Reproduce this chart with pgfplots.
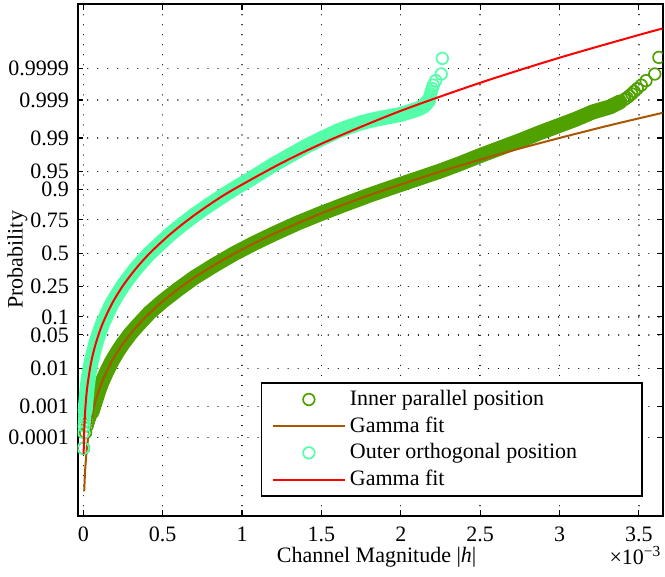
\documentclass[border=0pt]{standalone}
\usepackage{fontspec}
\setmainfont{Liberation Serif}
\usepackage{pgfplots}
\pgfplotsset{compat=1.18}
\usetikzlibrary{calc}
\definecolor{innerc}{RGB}{80,160,0}
\definecolor{outerc}{RGB}{85,255,170}
\definecolor{fitbrown}{RGB}{170,85,0}
\definecolor{fitred}{RGB}{255,0,0}
\pgfplotsset{
  lineleg/.style={legend image code/.code={\draw[##1] (0pt,0pt) -- (36pt,0pt);}},
  markleg/.style={legend image code/.code={\draw[##1] plot coordinates {(18pt,0pt)};}},
}
\begin{document}
\fontsize{11}{13}\selectfont
\begin{tikzpicture}
\begin{axis}[name=ax,
  scale only axis, width=292.5pt, height=255.85pt,
  xmin=-0.035, xmax=3.65, ymin=-5.290, ymax=5.026,
  clip marker paths=true,
  axis line style={line width=0.9pt},
  tick align=inside, major tick length=2.9pt,
  tick style={line width=0.6pt, black},
  xtick={0,0.5,1,1.5,2,2.5,3,3.5},
  xticklabels={0,0.5,1,1.5,2,2.5,3,3.5},
  ytick={-3.7190,-3.0902,-2.3263,-1.6449,-1.2816,-0.6745,0,0.6745,1.2816,1.6449,2.3263,3.0902,3.7190},
  yticklabels={0.0001,0.001,0.01,0.05,0.1,0.25,0.5,0.75,0.9,0.95,0.99,0.999,0.9999},
  xticklabel style={anchor=center, inner sep=0pt, yshift=-9.5pt, font=\fontsize{11}{13}\selectfont},
  yticklabel style={anchor=east, inner sep=0pt, xshift=-4.2pt, font=\fontsize{11}{13}\selectfont},
  grid=major,
  grid style={black, line width=0.65pt, dash pattern=on 0.01pt off 5pt, line cap=round},
  xlabel={Channel Magnitude |\textit{h}|},
  xlabel style={at={(axis description cs:0.511,-0.082)}, anchor=center, inner sep=0pt, font=\fontsize{11}{13}\selectfont},
  ylabel={Probability},
  ylabel style={at={(axis description cs:-0.1030,0.5)}, anchor=center, font=\fontsize{11}{13}\selectfont},
  legend cell align=left,
  legend style={at={(axis description cs:0.3128,0.2607)}, anchor=north west,
    draw=black, line width=0.9pt, fill=white, inner xsep=5.15pt, inner ysep=1.5pt,
    nodes={inner sep=2pt}, column sep=0pt, font=\fontsize{11}{13}\selectfont},
]
% ---- inner parallel position: dense band + tail circles
\addplot[forget plot, color=innerc, line width=7.5pt, line cap=round, line join=round] coordinates {
(0.055,-3.20) (0.08,-2.949) (0.10,-2.75) (0.12,-2.581) (0.15,-2.37) (0.18,-2.178) (0.215,-1.99)
(0.25,-1.821) (0.3,-1.61) (0.35,-1.429) (0.42,-1.19) (0.5,-0.968) (0.6,-0.72) (0.7,-0.488)
(0.825,-0.24) (0.95,-0.008) (1.075,0.20) (1.2,0.392) (1.35,0.61) (1.5,0.806) (1.65,0.99)
(1.8,1.170) (2.0,1.39) (2.25,1.66) (2.375,1.81) (2.5,1.97) (2.625,2.12) (2.75,2.27)
(2.875,2.43) (3.0,2.58) (3.1,2.70) (3.21,2.85) (3.317,2.95) (3.38,3.05)};
\addplot[only marks, mark=o, color=innerc, line width=0.85pt, mark size=2.9pt, markleg] coordinates {
(0.002,-3.93) (0.015,-3.615) (0.025,-3.48) (0.033,-3.39) (0.04,-3.32) (0.046,-3.263)
(0.055,-3.20) (0.08,-2.949) (0.10,-2.75) (0.12,-2.581) (0.15,-2.37) (0.18,-2.178) (0.215,-1.99)
(0.25,-1.821) (0.3,-1.61) (0.35,-1.429) (0.42,-1.19) (0.5,-0.968) (0.6,-0.72) (0.7,-0.488)
(0.825,-0.24) (0.95,-0.008) (1.075,0.20) (1.2,0.392) (1.35,0.61) (1.5,0.806) (1.65,0.99)
(1.8,1.170) (2.0,1.39) (2.25,1.66) (2.375,1.81) (2.5,1.97) (2.625,2.12) (2.75,2.27)
(2.875,2.43) (3.0,2.58) (3.1,2.70) (3.21,2.85) (3.317,2.95) (3.38,3.05)
(3.41,3.104) (3.425,3.137) (3.44,3.174) (3.455,3.215) (3.47,3.263) (3.49,3.32)
(3.515,3.39) (3.545,3.481) (3.60,3.615) (3.626,3.95)};
\addlegendentry{\makebox[139pt][l]{Inner parallel position}}
% ---- gamma fit (inner)
\addplot[color=fitbrown, line width=1pt, smooth, lineleg] coordinates {
(0.006,-4.80) (0.012,-4.371) (0.025,-3.871) (0.05,-3.343) (0.08,-2.949) (0.12,-2.581)
(0.18,-2.178) (0.25,-1.821) (0.35,-1.429) (0.5,-0.968) (0.7,-0.488) (0.95,-0.008)
(1.2,0.392) (1.5,0.806) (1.8,1.170) (2.2,1.597) (2.5,1.887) (2.75,2.113) (3.0,2.325)
(3.25,2.528) (3.4,2.645) (3.7,2.870)};
\addlegendentry{Gamma fit}
% ---- outer orthogonal position: dense band + tail circles
\addplot[forget plot, color=outerc, line width=7.5pt, line cap=round, line join=round] coordinates {
(0.012,-3.178) (0.018,-2.93) (0.025,-2.699) (0.035,-2.45) (0.05,-2.189) (0.065,-1.99)
(0.08,-1.807) (0.1,-1.61) (0.12,-1.433) (0.15,-1.22) (0.18,-1.021) (0.215,-0.83)
(0.25,-0.654) (0.29,-0.48) (0.33,-0.315) (0.375,-0.15) (0.42,0.005) (0.485,0.20)
(0.55,0.391) (0.625,0.585) (0.7,0.769) (0.8,0.99) (0.9,1.200) (0.975,1.35) (1.05,1.49)
(1.125,1.64) (1.2,1.79) (1.3,1.97) (1.4,2.15) (1.5,2.31) (1.6,2.46) (1.675,2.55)
(1.75,2.63) (1.81,2.68) (1.87,2.72) (1.935,2.76) (2.0,2.80) (2.05,2.85) (2.1,2.90)
(2.13,2.94) (2.148,2.98) (2.16,3.02) (2.168,3.05) (2.175,3.08)};
\addplot[only marks, mark=o, color=outerc, line width=0.85pt, mark size=2.9pt, markleg] coordinates {
(0.000,-3.93) (0.003,-3.615) (0.005,-3.48) (0.007,-3.39) (0.009,-3.32) (0.010,-3.263)
(0.012,-3.178) (0.018,-2.93) (0.025,-2.699) (0.035,-2.45) (0.05,-2.189) (0.065,-1.99)
(0.08,-1.807) (0.1,-1.61) (0.12,-1.433) (0.15,-1.22) (0.18,-1.021) (0.215,-0.83)
(0.25,-0.654) (0.29,-0.48) (0.33,-0.315) (0.375,-0.15) (0.42,0.005) (0.485,0.20)
(0.55,0.391) (0.625,0.585) (0.7,0.769) (0.8,0.99) (0.9,1.200) (0.975,1.35) (1.05,1.49)
(1.125,1.64) (1.2,1.79) (1.3,1.97) (1.4,2.15) (1.5,2.31) (1.6,2.46) (1.675,2.55)
(1.75,2.63) (1.81,2.68) (1.87,2.72) (1.935,2.76) (2.0,2.80) (2.05,2.85) (2.1,2.90)
(2.13,2.94) (2.148,2.98) (2.16,3.02) (2.168,3.05) (2.175,3.08)
(2.179,3.104) (2.182,3.137) (2.185,3.174) (2.188,3.215) (2.192,3.263) (2.198,3.32)
(2.205,3.39) (2.22,3.481) (2.255,3.615) (2.262,3.93)};
\addlegendentry{\makebox[139pt][l]{Outer orthogonal position}}
% ---- gamma fit (outer)
\addplot[color=fitred, line width=1pt, smooth, lineleg] coordinates {
(0.0025,-4.05) (0.006,-3.584) (0.012,-3.178) (0.025,-2.699) (0.05,-2.189) (0.08,-1.807)
(0.12,-1.433) (0.18,-1.021) (0.25,-0.654) (0.33,-0.315) (0.42,0.005) (0.55,0.391)
(0.7,0.769) (0.9,1.200) (1.2,1.737) (1.4,2.059) (1.6,2.348) (2.0,2.872) (2.5,3.437)
(3.0,3.943) (3.5,4.402) (3.7,4.575)};
\addlegendentry{Gamma fit}
\end{axis}
\node[anchor=east, inner sep=0pt, xshift=-0.5pt, yshift=-20pt] at (ax.south east)
  {\fontsize{11}{13}\selectfont ×10\textsuperscript{−3}};
\pgfresetboundingbox
\useasboundingbox ($(ax.south west)+(-38.85pt,-30.15pt)$) rectangle ($(ax.north east)+(1.15pt,2pt)$);
\end{tikzpicture}
\end{document}
